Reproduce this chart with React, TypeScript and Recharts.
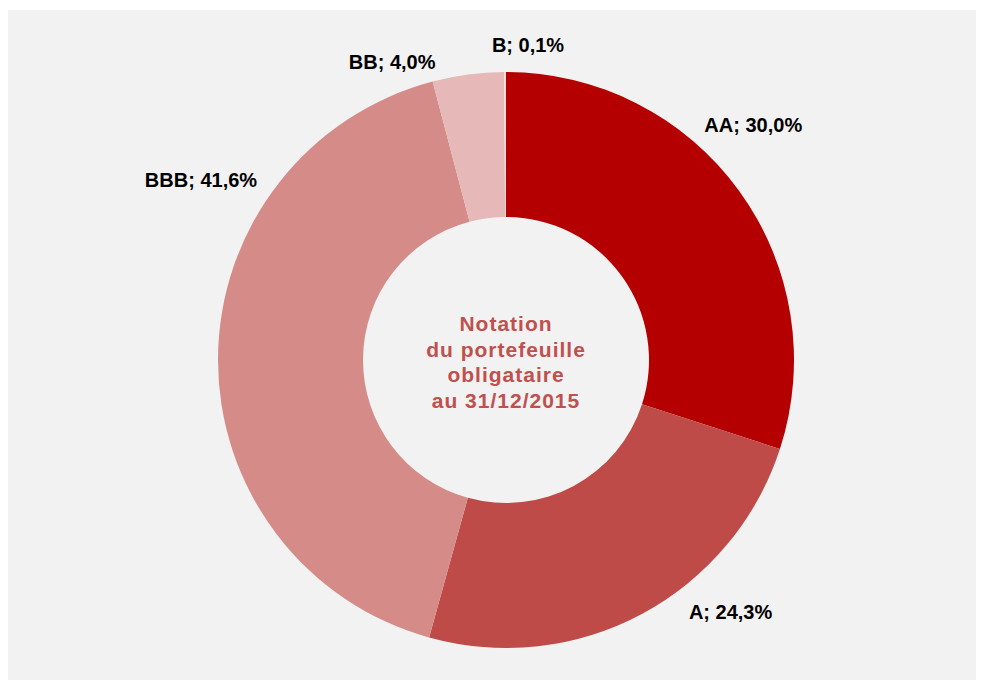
import { PieChart, Pie, Cell, Label } from 'recharts';

const ratings = ['AA', 'A', 'BBB', 'BB', 'B'];
const shares = [30.0, 24.3, 41.6, 4.0, 0.1];
const centerLines = ['Notation', 'du portefeuille', 'obligataire', 'au 31/12/2015'];

const sliceColors = ['#b40000', '#be4b48', '#d58c89', '#e6b8b7', '#f2dcdb'];
// Excel moved some labels by hand; shift each from its radial spot
const labelNudge: Record<string, [number, number]> = {
  AA: [-10, -48],
  A: [74, -28],
  BBB: [13, -178],
  BB: [-72, 17],
  B: [23, 3],
};

const data = ratings.map((name, i) => ({ name, value: shares[i] }));
const RAD = Math.PI / 180;
const font = '"Liberation Sans", Arial, sans-serif';
const PIE_CX = 493;
const PIE_CY = 345;
const MARGIN = 5;

const renderLabel = (props: any) => {
  const { cx, cy, midAngle, outerRadius, name, value } = props;
  const r = outerRadius + 30;
  const [dx, dy] = labelNudge[name] || [0, 0];
  const x = cx + r * Math.cos(-midAngle * RAD) + dx;
  const y = cy + r * Math.sin(-midAngle * RAD) + dy;
  return (
    <text x={x} y={y} textAnchor="middle" dominantBaseline="central" fill="#000" fontSize={20} fontWeight="bold" fontFamily={font}>
      {`${name}; ${value.toFixed(1).replace('.', ',')}%`}
    </text>
  );
};

const renderCenter = () => {
  const cx = PIE_CX + MARGIN;
  const cy = PIE_CY + MARGIN;
  return (
    <text x={cx} y={cy} textAnchor="middle" fill="#c0504d" fontSize={21} fontWeight="bold" fontFamily={font} letterSpacing={1}>
      {centerLines.map((line, i) => (
        <tspan key={line} x={cx} y={cy - 29 + i * 25.5}>{line}</tspan>
      ))}
    </text>
  );
};

export default function App() {
  return (
    <div style={{ paddingTop: 2 }}>
      <div style={{ width: 970, height: 670, background: '#f2f2f2' }}>
        <PieChart width={970} height={670}>
          <Pie
            data={data}
            dataKey="value"
            nameKey="name"
            cx={PIE_CX}
            cy={PIE_CY}
            innerRadius={143}
            outerRadius={288}
            startAngle={90}
            endAngle={-270}
            stroke="none"
            label={renderLabel}
            labelLine={false}
            isAnimationActive={false}
          >
            {data.map((d, i) => (
              <Cell key={d.name} fill={sliceColors[i]} />
            ))}
            <Label position="center" content={renderCenter} />
          </Pie>
        </PieChart>
      </div>
    </div>
  );
}
